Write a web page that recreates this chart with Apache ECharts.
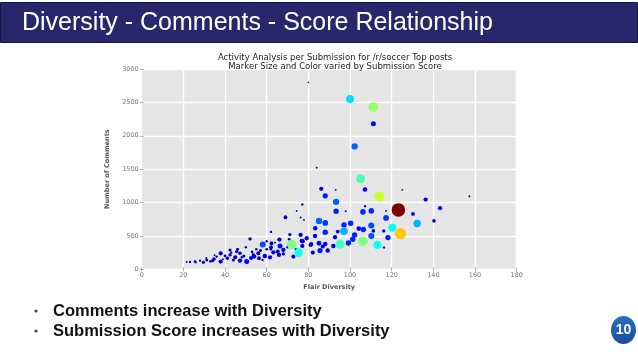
<!DOCTYPE html>
<html><head><meta charset="utf-8">
<script src="https://cdn.jsdelivr.net/npm/echarts@6/dist/echarts.min.js"></script>
<style>html,body{margin:0;padding:0;background:#fff}#c{width:638px;height:359px}</style>
</head><body><div id="c"></div>
<script>
// Data
var diversity = [100.0,111.2,111.2,102.2,84,105.1,107.2,86.2,93.1,114.1,88.1,136.3,157.3,125.1,93.3,93.3,97.9,107.2,123.2,143.2,106.2,110.2,117.3,130.2,117.3,85.1,88.1,100.3,140.3,132.2,97.1,110.2,83.3,120.3,97.1,104.2,106.4,111.2,116.2,88.1,94.1,124.2,102.2,110.2,83.2,118.2,92.8,101.3,106.2,95.2,99.2,113.1,76.3,79.2,77.3,85.1,81.1,92,88.1,89.3,82.1,75.3,116.3,86.9,80,
77.1,74.4,69.0,76.3,77.9,62.1,71.1,66.1,52,70.8,58.1,72,66.4,62.3,63.2,65.3,68,59.1,56,54,50.4,47.2,52.5,61.6,65.9,72.8,56.3,53.6,47.2,45.6,44.9,42.4,42.4,41.1,37.9,37.9,34.7,34.1,31.2,29.6,25.6,23.2,21.6,77.1,76.8,81.4,85.6,60,57,50,46,40,36,33,28,26,44,48,55,62,68,70,74,64,60,39,43,31,35,53,58,49,62.1];
var comments = [2550,2430,2180,1840,1520,1355,1195,1205,1190,1090,1100,1045,1095,1190,1010,870,870,945,890,915,860,875,875,830,770,725,695,690,725,685,665,655,615,625,570,610,595,575,575,555,565,535,515,500,500,475,480,450,420,375,395,365,515,465,420,390,365,350,380,280,250,250,325,340,2800,
970,875,780,775,740,560,520,445,455,450,370,370,350,390,255,265,290,200,240,190,115,130,170,180,215,190,165,215,240,265,180,215,290,165,240,115,155,130,140,105,115,110,110,350,425,380,280,300,280,330,300,200,190,120,130,100,140,180,300,300,230,330,300,400,420,150,250,170,210,260,140,200,330];
var score = [34,52,14,22,2,45,12,10,2,57,15,10,2,2,22,16,2,3,100,10,17,17,2,8,18,22,18,16,7,30,16,20,11,38,30,12,16,7,6,16,8,68,16,20,11,16,10,16,50,44,16,38,10,10,10,13,10,11,11,11,9,40,3,9,1,
3,2,8,2,2,3,6,10,6,4,20,50,14,8,10,9,10,11,9,10,14,11,9,10,10,9,8,7,7,6,9,6,5,7,10,10,7,6,5,6,4,3,2,10,10,9,15,4,5,3,5,4,3,4,3,2,5,3,3,4,6,4,3,2,3,2,3,2,2,4,3,5,8];
var xTicks = [0,20,40,60,80,100,120,140,160,180];
var yTicks = [0,500,1000,1500,2000,2500,3000];

var pts = [];
for (var i = 0; i < diversity.length; i++) pts.push([diversity[i], comments[i], score[i]]);
pts.sort(function(a,b){return a[2]-b[2];});

var jet = ['#00007f','#0000ff','#007fff','#00ffff','#7fff7f','#ffff00','#ff7f00','#ff0000','#7f0000'];
var chart = echarts.init(document.getElementById('c'));
var tickStyle = {lineStyle:{color:'#999',width:0.8}, length:2};
var plain = function(v){return String(v);};
chart.setOption({
  animation:false,
  backgroundColor:'#ffffff',
  title:{text:'Activity Analysis per Submission for /r/soccer Top posts\nMarker Size and Color varied by Submission Score',
    left:330, top:48, textAlign:'center',
    textStyle:{fontFamily:'DejaVu Sans',fontSize:8.5,fontWeight:'normal',color:'#222',lineHeight:9.5}},
  grid:{left:141.7,right:121.3,top:69,bottom:89.7,show:true,backgroundColor:'#e5e5e5',borderWidth:0},
  visualMap:{type:'continuous',show:false,dimension:2,min:0,max:100,seriesIndex:0,inRange:{color:jet}},
  xAxis:[{type:'value',min:xTicks[0],max:xTicks[xTicks.length-1],interval:20,
    axisLine:{show:false},axisTick:Object.assign({show:true},tickStyle),
    splitLine:{show:true,lineStyle:{color:'#ffffff',width:1.4}},
    axisLabel:{fontFamily:'DejaVu Sans',fontSize:6.5,color:'#777',margin:3,formatter:plain},
    name:'Flair Diversity',nameLocation:'middle',nameGap:12,
    nameTextStyle:{fontFamily:'DejaVu Sans',fontSize:6.5,fontWeight:'bold',color:'#555'}},
   {type:'value',position:'top',min:0,max:180,interval:20,axisLine:{show:false},
    axisTick:Object.assign({show:true},tickStyle),axisLabel:{show:false},splitLine:{show:false}}],
  yAxis:[{type:'value',min:yTicks[0],max:yTicks[yTicks.length-1],interval:500,
    axisLine:{show:false},axisTick:Object.assign({show:true},tickStyle),
    splitLine:{show:true,lineStyle:{color:'#ffffff',width:1.4}},
    axisLabel:{fontFamily:'DejaVu Sans',fontSize:6.5,color:'#777',margin:3,formatter:plain},
    name:'Number of Comments',nameLocation:'middle',nameGap:19,nameRotate:90,
    nameTextStyle:{fontFamily:'DejaVu Sans',fontSize:6.5,fontWeight:'bold',color:'#555'}},
   {type:'value',position:'right',min:0,max:3000,interval:500,axisLine:{show:false},
    axisTick:Object.assign({show:true},tickStyle),axisLabel:{show:false},splitLine:{show:false}}],
  series:[{type:'scatter',xAxisIndex:0,yAxisIndex:0,data:pts,
    symbolSize:function(v){return Math.max(1.6, 13.5*Math.sqrt(v[2]/100));},
    itemStyle:{opacity:1}}],
  graphic:[
    {type:'rect',shape:{x:0.5,y:2.5,width:637,height:40},style:{fill:'#28276b',stroke:'#16163c',lineWidth:1}},
    {type:'text',x:22,y:23,style:{text:'Diversity - Comments - Score Relationship',fill:'#ffffff',
      font:'25px "Liberation Sans", Arial, sans-serif',textVerticalAlign:'middle'}},
    {type:'circle',shape:{cx:36,cy:311,r:1.6},style:{fill:'#444'}},
    {type:'text',x:53,y:311,style:{text:'Comments increase with Diversity',fill:'#111',
      font:'bold 16.5px "Liberation Sans", Arial, sans-serif',textVerticalAlign:'middle'}},
    {type:'circle',shape:{cx:36,cy:331,r:1.6},style:{fill:'#444'}},
    {type:'text',x:53,y:331,style:{text:'Submission Score increases with Diversity',fill:'#111',
      font:'bold 16.5px "Liberation Sans", Arial, sans-serif',textVerticalAlign:'middle'}},
    {type:'ellipse',shape:{cx:623.5,cy:330,rx:12.5,ry:14},
      style:{fill:new echarts.graphic.LinearGradient(0,0,0,1,[{offset:0,color:'#2a6fc4'},{offset:1,color:'#164e9c'}])}},
    {type:'text',x:623.5,y:330.5,style:{text:'10',fill:'#ffffff',font:'bold 14px "Liberation Sans", Arial',
      textAlign:'center',textVerticalAlign:'middle'}}
  ]
});
</script></body></html>
